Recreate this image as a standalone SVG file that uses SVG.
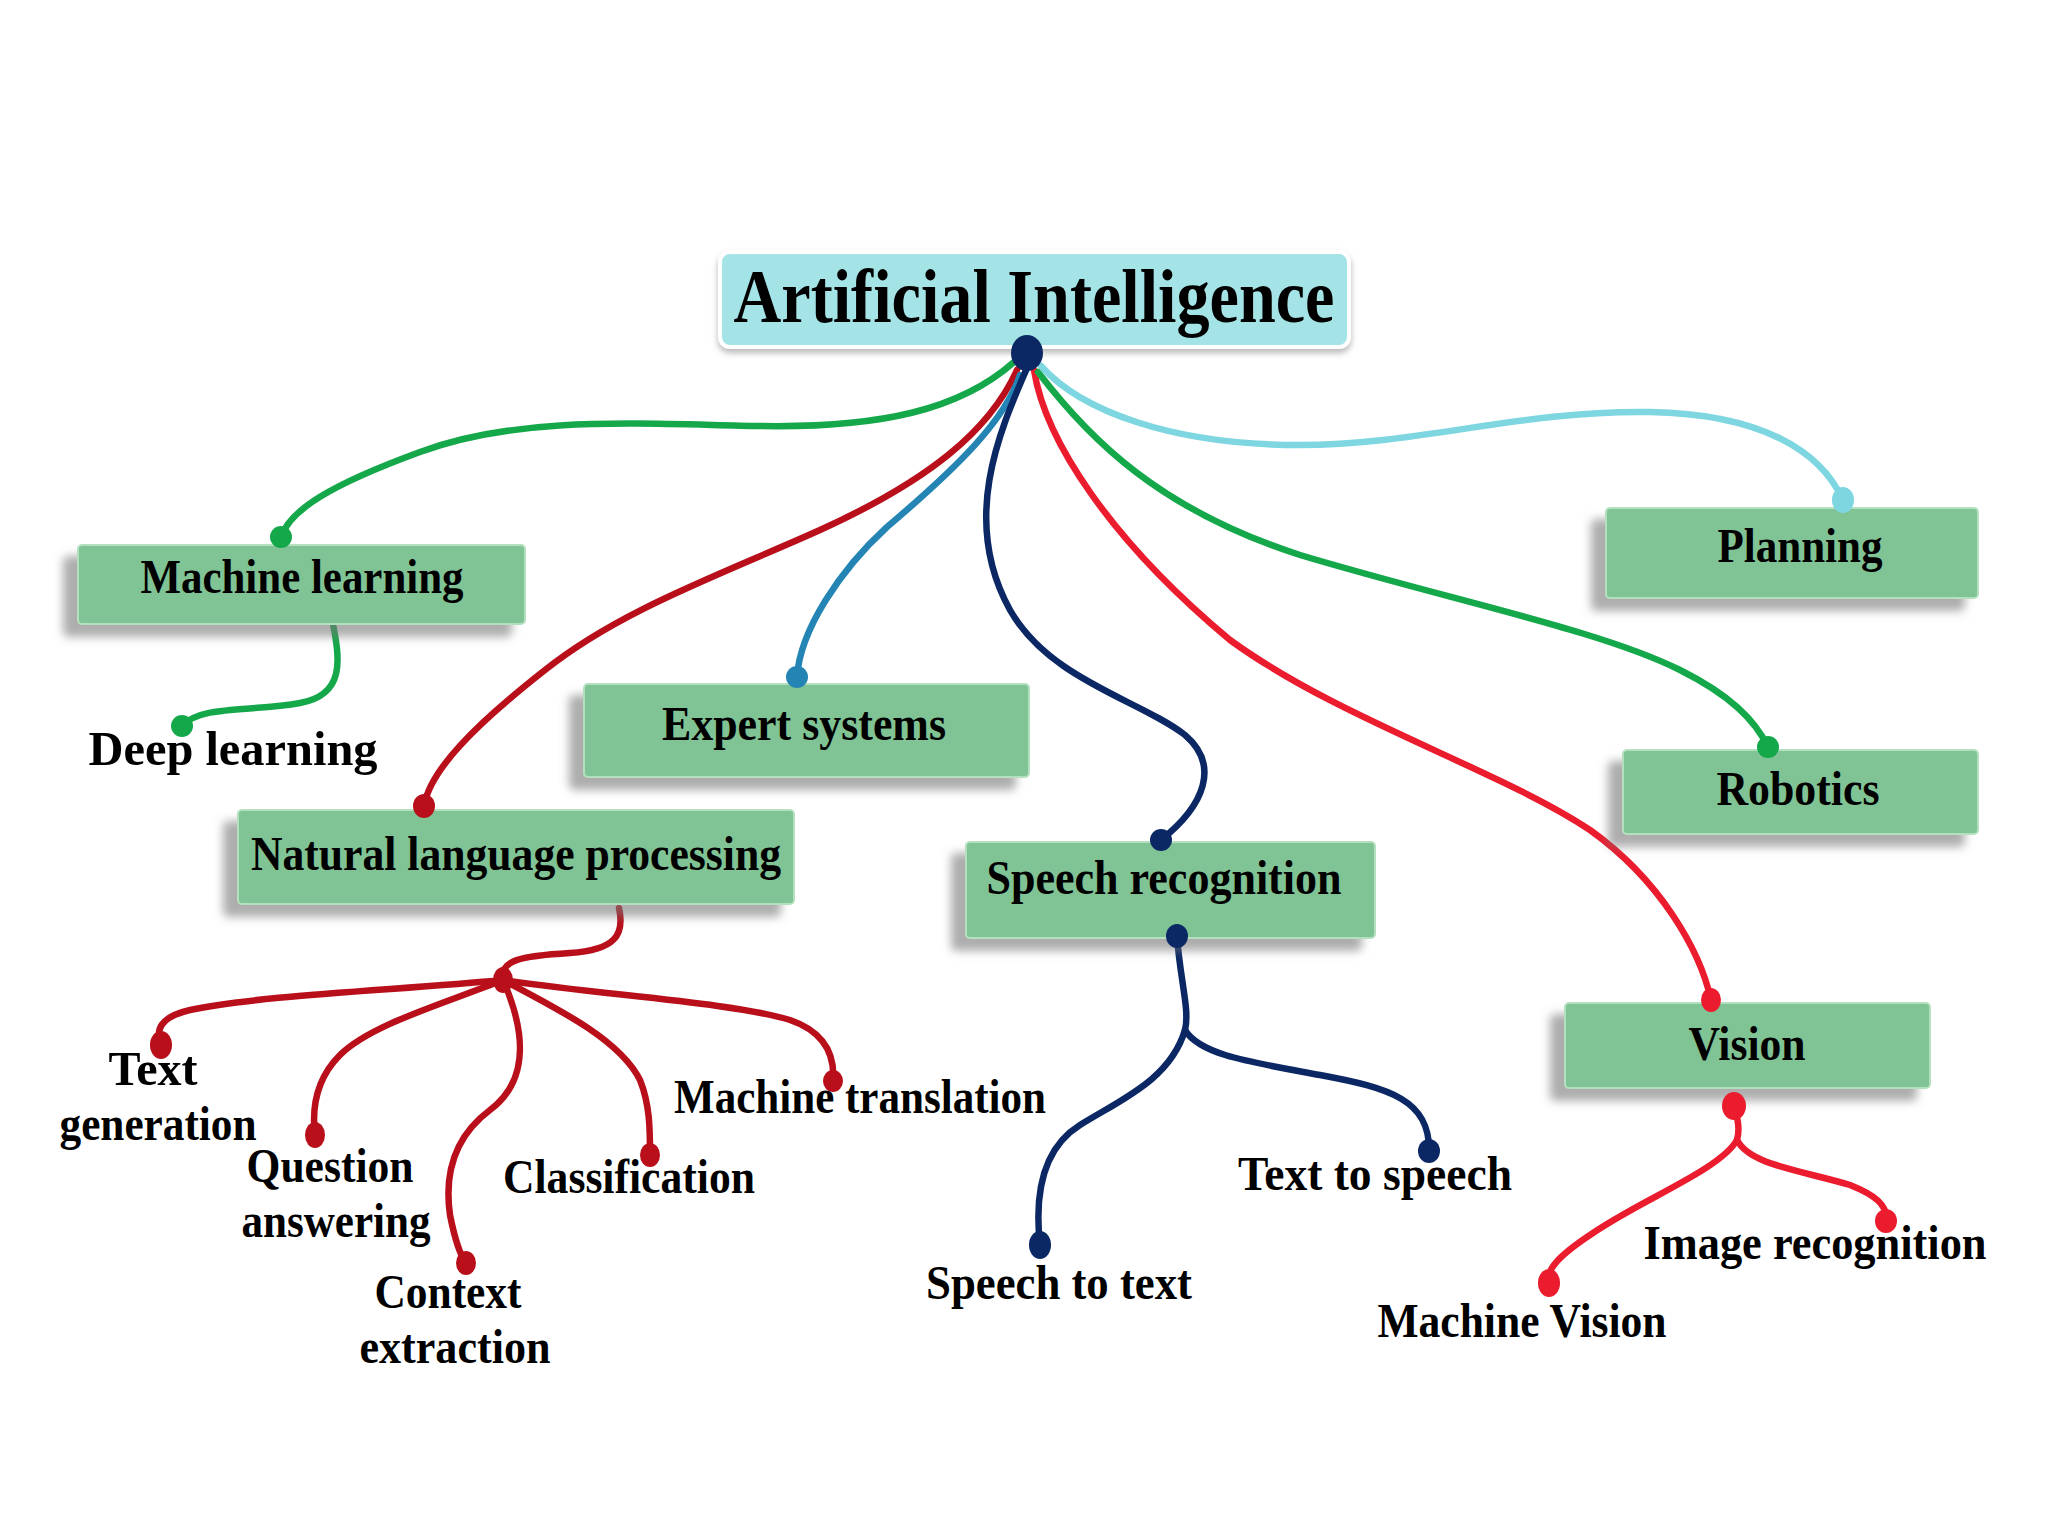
<svg xmlns="http://www.w3.org/2000/svg" width="2048" height="1536" viewBox="0 0 2048 1536">
<defs>
<filter id="sh" x="-10%" y="-20%" width="120%" height="150%">
<feDropShadow dx="-14" dy="12" stdDeviation="5" flood-color="#777" flood-opacity="0.6"/>
</filter>
<filter id="shr" x="-10%" y="-20%" width="120%" height="150%">
<feDropShadow dx="0" dy="4" stdDeviation="3" flood-color="#888" flood-opacity="0.6"/>
</filter>
</defs>
<style>
.box{fill:#80c394;stroke:#b5e0c0;stroke-width:2}
.t{font-family:"Liberation Serif","Times New Roman",serif;font-weight:bold;fill:#000;font-size:48px;text-anchor:middle}
.big{font-size:77px}
.c{fill:none;stroke-width:6.5;stroke-linecap:round}
.green{stroke:#14a84a}.dred{stroke:#b80f1a}.blue{stroke:#2485b5}.navy{stroke:#0b2865}.red{stroke:#ea1c2d}.cyan{stroke:#7dd6e0}
</style>
<rect width="2048" height="1536" fill="#fff"/>

<g id="connectors">
<path class="c green" d="M1014,362 C960,410 880,428 760,426 C640,424 520,415 420,452 C330,485 290,510 281,537"/>
<path class="c dred" d="M1017,370 C990,430 930,480 820,530 C720,575 620,610 545,670 C475,725 430,770 424,806"/>
<path class="c blue" d="M1020,375 C1005,420 960,465 887,527 C840,570 800,630 797,677"/>
<path class="c navy" d="M1027,368 C1000,430 960,520 1010,610 C1050,680 1140,700 1185,735 C1220,765 1205,805 1161,840"/>
<path class="c red" d="M1034,370 C1045,440 1110,540 1230,640 C1340,720 1500,770 1590,830 C1660,880 1700,950 1711,1000"/>
<path class="c green" d="M1038,372 C1090,440 1160,510 1300,555 C1450,600 1600,630 1680,670 C1730,695 1755,720 1768,747"/>
<path class="c cyan" d="M1041,366 C1080,410 1170,445 1300,445 C1420,445 1520,410 1650,412 C1760,414 1820,450 1843,500"/>
<path class="c green" d="M333,624 C340,660 345,695 300,703 C250,712 200,705 182,726"/>
<path class="c dred" d="M619,908 C625,935 615,950 570,953 C520,956 500,960 503,980"/>
<path class="c dred" d="M503,980 C400,990 260,995 190,1010 C160,1017 155,1030 161,1045"/>
<path class="c dred" d="M503,980 C440,1005 370,1025 340,1055 C315,1080 312,1110 315,1135"/>
<path class="c dred" d="M503,980 C525,1030 530,1080 490,1110 C450,1140 445,1180 450,1215 C455,1240 460,1255 466,1263"/>
<path class="c dred" d="M503,980 C560,1010 620,1040 640,1080 C650,1105 650,1130 650,1155"/>
<path class="c dred" d="M503,980 C600,995 730,1002 790,1020 C825,1032 835,1055 833,1081"/>
<path class="c navy" d="M1177,936 C1180,980 1190,1010 1185,1030 C1170,1080 1120,1100 1080,1125 C1040,1150 1035,1200 1040,1245"/>
<path class="c navy" d="M1185,1030 C1200,1055 1250,1062 1320,1075 C1390,1088 1430,1100 1429,1151"/>
<path class="c red" d="M1734,1104 C1738,1120 1740,1130 1737,1140 C1720,1170 1640,1200 1590,1235 C1560,1255 1545,1270 1549,1283"/>
<path class="c red" d="M1737,1140 C1750,1165 1800,1170 1850,1185 C1875,1195 1888,1205 1886,1221"/>
</g>

<g id="root">
<rect x="720" y="252" width="629" height="95" rx="10" fill="#a4e3e6" stroke="#fff" stroke-width="4" filter="url(#shr)"/>
<text class="t big" x="1034" y="322" textLength="601" lengthAdjust="spacingAndGlyphs">Artificial Intelligence</text>
<ellipse cx="1027" cy="353" rx="16" ry="18" fill="#0b2865"/>
</g>

<g id="machine-learning">
<rect class="box" x="78" y="545" width="447" height="79" rx="4" filter="url(#sh)"/>
<text class="t" x="302" y="593" textLength="323" lengthAdjust="spacingAndGlyphs">Machine learning</text>
<ellipse cx="281" cy="537" rx="11" ry="11" fill="#14a84a"/>
</g>

<g id="deep-learning">
<text class="t" x="233" y="765" textLength="289" lengthAdjust="spacingAndGlyphs">Deep learning</text>
<ellipse cx="182" cy="726" rx="11" ry="11" fill="#14a84a"/>
</g>

<g id="expert-systems">
<rect class="box" x="584" y="684" width="445" height="93" rx="4" filter="url(#sh)"/>
<text class="t" x="804" y="740" textLength="284" lengthAdjust="spacingAndGlyphs">Expert systems</text>
<ellipse cx="797" cy="677" rx="11" ry="11" fill="#2485b5"/>
</g>

<g id="nlp">
<rect class="box" x="238" y="810" width="556" height="94" rx="4" filter="url(#sh)"/>
<text class="t" x="516" y="870" textLength="530" lengthAdjust="spacingAndGlyphs">Natural language processing</text>
<ellipse cx="424" cy="806" rx="11" ry="12" fill="#b80f1a"/>
</g>

<g id="speech-recognition">
<rect class="box" x="966" y="842" width="409" height="96" rx="4" filter="url(#sh)"/>
<text class="t" x="1164" y="894" textLength="355" lengthAdjust="spacingAndGlyphs">Speech recognition</text>
<ellipse cx="1161" cy="840" rx="11" ry="11" fill="#0b2865"/>
<ellipse cx="1177" cy="936" rx="11" ry="12" fill="#0b2865"/>
</g>

<g id="planning">
<rect class="box" x="1606" y="508" width="372" height="90" rx="4" filter="url(#sh)"/>
<text class="t" x="1800" y="562" textLength="165" lengthAdjust="spacingAndGlyphs">Planning</text>
<ellipse cx="1843" cy="500" rx="11" ry="13" fill="#7dd6e0"/>
</g>

<g id="robotics">
<rect class="box" x="1623" y="750" width="355" height="84" rx="4" filter="url(#sh)"/>
<text class="t" x="1798" y="805" textLength="163" lengthAdjust="spacingAndGlyphs">Robotics</text>
<ellipse cx="1768" cy="747" rx="11" ry="11" fill="#14a84a"/>
</g>

<g id="vision">
<rect class="box" x="1565" y="1003" width="365" height="85" rx="4" filter="url(#sh)"/>
<text class="t" x="1747" y="1060" textLength="117" lengthAdjust="spacingAndGlyphs">Vision</text>
<ellipse cx="1711" cy="1000" rx="10" ry="12" fill="#ea1c2d"/>
<ellipse cx="1734" cy="1106" rx="12" ry="14" fill="#ea1c2d"/>
</g>

<g id="nlp-junction">
<ellipse cx="503" cy="980" rx="10" ry="13" fill="#b80f1a"/>
</g>

<g id="text-generation">
<text class="t" x="153" y="1085" textLength="89" lengthAdjust="spacingAndGlyphs">Text</text>
<text class="t" x="158" y="1140" textLength="197" lengthAdjust="spacingAndGlyphs">generation</text>
<ellipse cx="161" cy="1045" rx="11" ry="14" fill="#b80f1a"/>
</g>

<g id="question-answering">
<text class="t" x="330" y="1182" textLength="167" lengthAdjust="spacingAndGlyphs">Question</text>
<text class="t" x="336" y="1237" textLength="189" lengthAdjust="spacingAndGlyphs">answering</text>
<ellipse cx="315" cy="1135" rx="10" ry="13" fill="#b80f1a"/>
</g>

<g id="context-extraction">
<text class="t" x="448" y="1308" textLength="147" lengthAdjust="spacingAndGlyphs">Context</text>
<text class="t" x="455" y="1363" textLength="191" lengthAdjust="spacingAndGlyphs">extraction</text>
<ellipse cx="466" cy="1263" rx="10" ry="12" fill="#b80f1a"/>
</g>

<g id="classification">
<text class="t" x="629" y="1193" textLength="252" lengthAdjust="spacingAndGlyphs">Classification</text>
<ellipse cx="650" cy="1155" rx="10" ry="12" fill="#b80f1a"/>
</g>

<g id="machine-translation">
<text class="t" x="860" y="1113" textLength="372" lengthAdjust="spacingAndGlyphs">Machine translation</text>
<ellipse cx="833" cy="1081" rx="10" ry="11" fill="#b80f1a"/>
</g>

<g id="speech-to-text">
<text class="t" x="1059" y="1299" textLength="266" lengthAdjust="spacingAndGlyphs">Speech to text</text>
<ellipse cx="1040" cy="1245" rx="11" ry="14" fill="#0b2865"/>
</g>

<g id="text-to-speech">
<text class="t" x="1375" y="1190" textLength="274" lengthAdjust="spacingAndGlyphs">Text to speech</text>
<ellipse cx="1429" cy="1151" rx="11" ry="12" fill="#0b2865"/>
</g>

<g id="image-recognition">
<text class="t" x="1815" y="1259" textLength="343" lengthAdjust="spacingAndGlyphs">Image recognition</text>
<ellipse cx="1886" cy="1221" rx="11" ry="12" fill="#ea1c2d"/>
</g>

<g id="machine-vision">
<text class="t" x="1522" y="1337" textLength="289" lengthAdjust="spacingAndGlyphs">Machine Vision</text>
<ellipse cx="1549" cy="1283" rx="11" ry="14" fill="#ea1c2d"/>
</g>
</svg>
